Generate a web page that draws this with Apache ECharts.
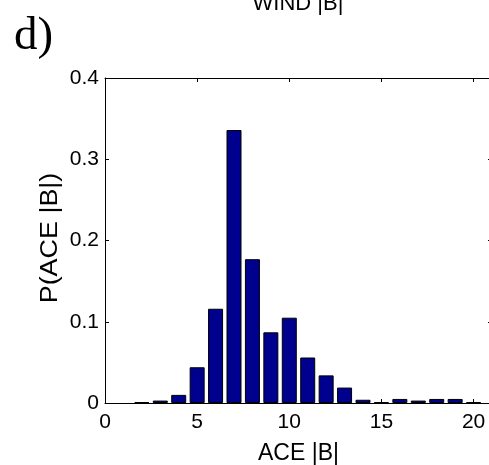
<!DOCTYPE html>
<html>
<head>
<meta charset="utf-8">
<script src="https://cdn.jsdelivr.net/npm/echarts@6/dist/echarts.min.js"></script>
<style>html,body{margin:0;padding:0;background:#fff;}#c{width:489px;height:465px;}</style>
</head>
<body>
<div id="c"></div>
<script>
const binCenters = [2, 3, 4, 5, 6, 7, 8, 9, 10, 11, 12, 13, 14, 15, 16, 17, 18, 19, 20];
const probValues = [0.001, 0.003, 0.010, 0.044, 0.116, 0.336, 0.177, 0.087, 0.105, 0.056, 0.034, 0.019, 0.004, 0.001, 0.005, 0.003, 0.005, 0.005, 0.001];
const xTicks = [0, 5, 10, 15, 20];
const yTicks = [0, 0.1, 0.2, 0.3, 0.4];
const titleText = 'WIND |B|';
const panelLabel = 'd)';
const xName = 'ACE |B|';
const yName = 'P(ACE |B|)';

const chart = echarts.init(document.getElementById('c'), null, {renderer: 'canvas'});
const font = 'Liberation Sans, Arial, sans-serif';
const axisCommon = {
  type: 'value',
  axisLine: {show: true, onZero: false, lineStyle: {color: '#000', width: 1}},
  axisTick: {show: true, inside: true, length: 4, lineStyle: {color: '#000'}},
  splitLine: {show: false}
};
chart.setOption({
  animation: false,
  backgroundColor: '#fff',
  grid: {left: 105, top: 78, width: 387, height: 325, containLabel: false, outerBoundsMode: 'none'},
  xAxis: [
    Object.assign({}, axisCommon, {
      min: 0, max: 21, interval: 5, position: 'bottom',
      name: xName, nameLocation: 'middle', nameGap: 39,
      nameTextStyle: {fontFamily: font, fontSize: 23, color: '#000'},
      axisLabel: {show: true, color: '#000', fontFamily: font, fontSize: 21, margin: 9,
        formatter: v => xTicks.includes(v) ? String(v) : ''}
    }),
    Object.assign({}, axisCommon, {
      min: 0, max: 21, interval: 5, position: 'top', axisLabel: {show: false}
    })
  ],
  yAxis: [
    Object.assign({}, axisCommon, {
      min: 0, max: 0.4, interval: 0.1, position: 'left',
      axisLabel: {show: true, color: '#000', fontFamily: font, fontSize: 21, margin: 6,
        formatter: v => { const t = yTicks.find(k => Math.abs(k - v) < 1e-9); return t === undefined ? '' : (t === 0 ? '0' : t.toFixed(1)); }}
    }),
    Object.assign({}, axisCommon, {
      min: 0, max: 0.4, interval: 0.1, position: 'right', axisLabel: {show: false}
    })
  ],
  series: [{
    type: 'bar',
    xAxisIndex: 0, yAxisIndex: 0,
    barWidth: 15,
    data: binCenters.map((c, i) => [c, probValues[i]]),
    itemStyle: {color: '#00008F', borderColor: '#000', borderWidth: 1}
  }],
  graphic: [
    {type: 'text', left: 14, top: 13, style: {text: panelLabel, fontFamily: 'Liberation Serif, Times New Roman, serif', fontSize: 47, fill: '#000'}},
    {type: 'text', x: 298, y: 4, style: {text: titleText, fontFamily: font, fontSize: 22, fill: '#000', align: 'center', verticalAlign: 'middle'}},
    {type: 'text', x: 51, y: 238, rotation: Math.PI / 2, scaleX: 1.17,
      style: {text: yName, fontFamily: font, fontSize: 23, fill: '#000', align: 'center', verticalAlign: 'middle'}}
  ]
});
</script>
</body>
</html>
